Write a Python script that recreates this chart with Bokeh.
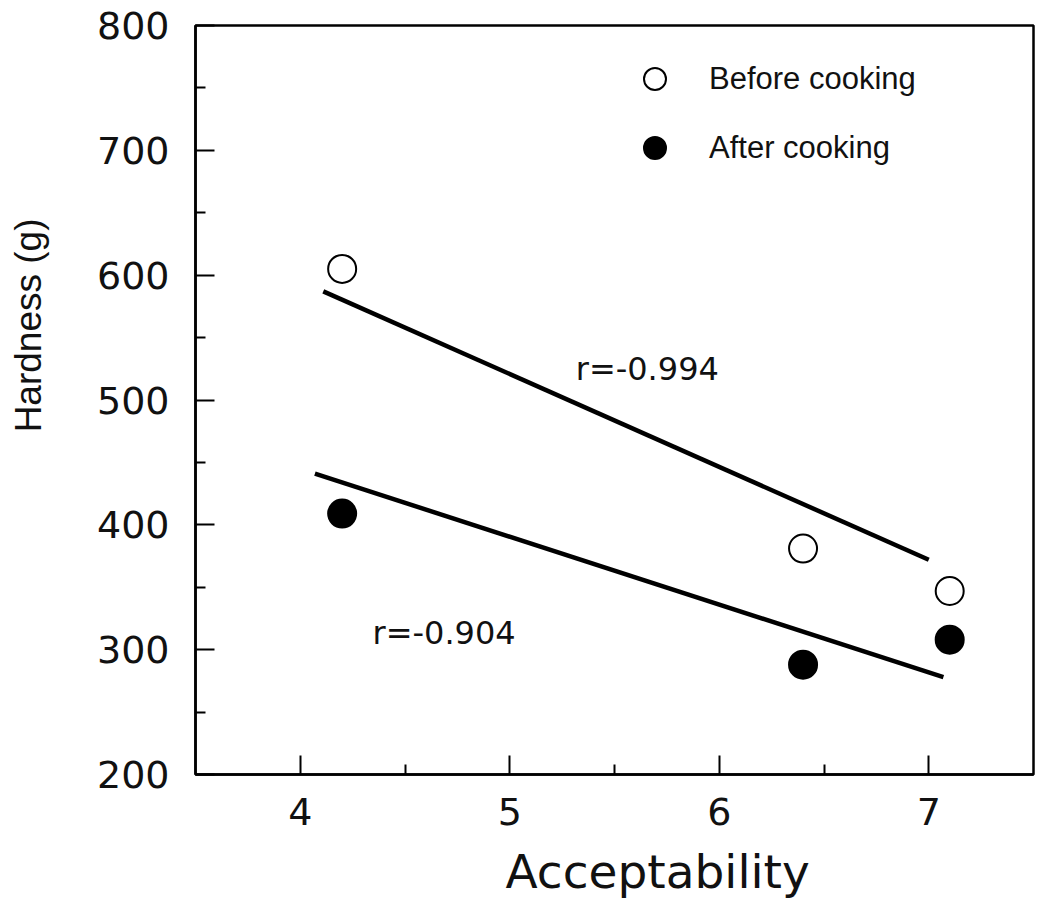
from bokeh.plotting import figure
from bokeh.models import Range1d, FixedTicker, Legend, LegendItem, Title
from bokeh.core.properties import value
from bokeh.embed import file_html
from bokeh.resources import INLINE

# ---- data ----
acceptability = [4.2, 6.4, 7.1]
hardness_before = [605, 381, 347]
hardness_after = [409, 288, 308]

# drawn regression lines (end points)
fit_before_x = [4.11, 7.0]
fit_before_y = [587, 372]
fit_after_x = [4.07, 7.07]
fit_after_y = [441, 278]

r_labels = ["r=-0.994", "r=-0.904"]
r_label_x = [5.315, 4.345]
r_label_y = [525, 313]

x_major = [4, 5, 6, 7]
x_minor = [4.5, 5.5, 6.5]
y_major = [200, 300, 400, 500, 600, 700, 800]
y_minor = [250, 350, 450, 550, 650, 750]

x_title = "Acceptability"
y_title = "Hardness (g)"

TICK_FONT = "DejaVu Sans"
INK = "#111111"

p = figure(width=1037, height=901, output_backend="svg", toolbar_location=None,
           x_range=Range1d(3.5, 7.5), y_range=Range1d(200, 800),
           min_border_left=195, min_border_right=4, min_border_top=25,
           min_border_bottom=127)
p.grid.visible = False
p.background_fill_color = "white"
p.border_fill_color = "white"
p.outline_line_color = "black"
p.outline_line_width = 2.5

for ax in (p.xaxis[0], p.yaxis[0]):
    ax.axis_line_width = 2.5
    ax.axis_line_color = "black"
    ax.major_tick_in = 19
    ax.major_tick_out = 0
    ax.minor_tick_in = 10
    ax.minor_tick_out = 0
    ax.major_tick_line_width = 2
    ax.minor_tick_line_width = 2
    ax.major_tick_line_color = "black"
    ax.minor_tick_line_color = "black"
    ax.major_label_text_font = TICK_FONT
    ax.major_label_text_font_size = "38px"
    ax.major_label_text_color = INK

p.xaxis[0].ticker = FixedTicker(ticks=x_major, minor_ticks=x_minor)
p.yaxis[0].ticker = FixedTicker(ticks=y_major, minor_ticks=y_minor)
p.xaxis[0].major_label_standoff = 23
p.yaxis[0].major_label_standoff = 26

# axis titles (placed off-centre as in the reference)
p.add_layout(Title(text="\n" + x_title, align="left", offset=310,
                   vertical_align="bottom", standoff=0, text_line_height=0.28,
                   text_font="DejaVu Sans", text_font_size="47px",
                   text_font_style="normal", text_color=INK), "below")
# trailing line break keeps a blank line between the title and the tick labels
p.add_layout(Title(text=y_title + "\n", align="right", offset=193,
                   vertical_align="bottom", standoff=8,
                   text_font="Liberation Sans", text_font_size="37px",
                   text_font_style="normal", text_color=INK), "left")

# regression lines
p.line(fit_before_x, fit_before_y, line_color="black", line_width=4.5)
p.line(fit_after_x, fit_after_y, line_color="black", line_width=4.5)

# data points
r_before = p.scatter(acceptability, hardness_before, size=28, marker="circle",
                     fill_color="white", line_color="black", line_width=2)
r_after = p.scatter(acceptability, hardness_after, size=28, marker="circle",
                    fill_color="black", line_color="black", line_width=2)

# r annotations
p.text(r_label_x, r_label_y, text=r_labels, text_font=value("DejaVu Sans"),
       text_font_size="32px", text_color=INK, text_align="left",
       text_baseline="alphabetic")

legend = Legend(items=[LegendItem(label="Before cooking", renderers=[r_before]),
                       LegendItem(label="After cooking", renderers=[r_after])],
                location=(432, 599), glyph_width=55, glyph_height=55,
                spacing=14, padding=0, label_standoff=27,
                label_text_font="Liberation Sans", label_text_font_size="31px",
                label_text_color=INK,
                border_line_color=None, background_fill_alpha=0)
p.add_layout(legend, "center")

open("out.html", "w").write(file_html(p, INLINE))
